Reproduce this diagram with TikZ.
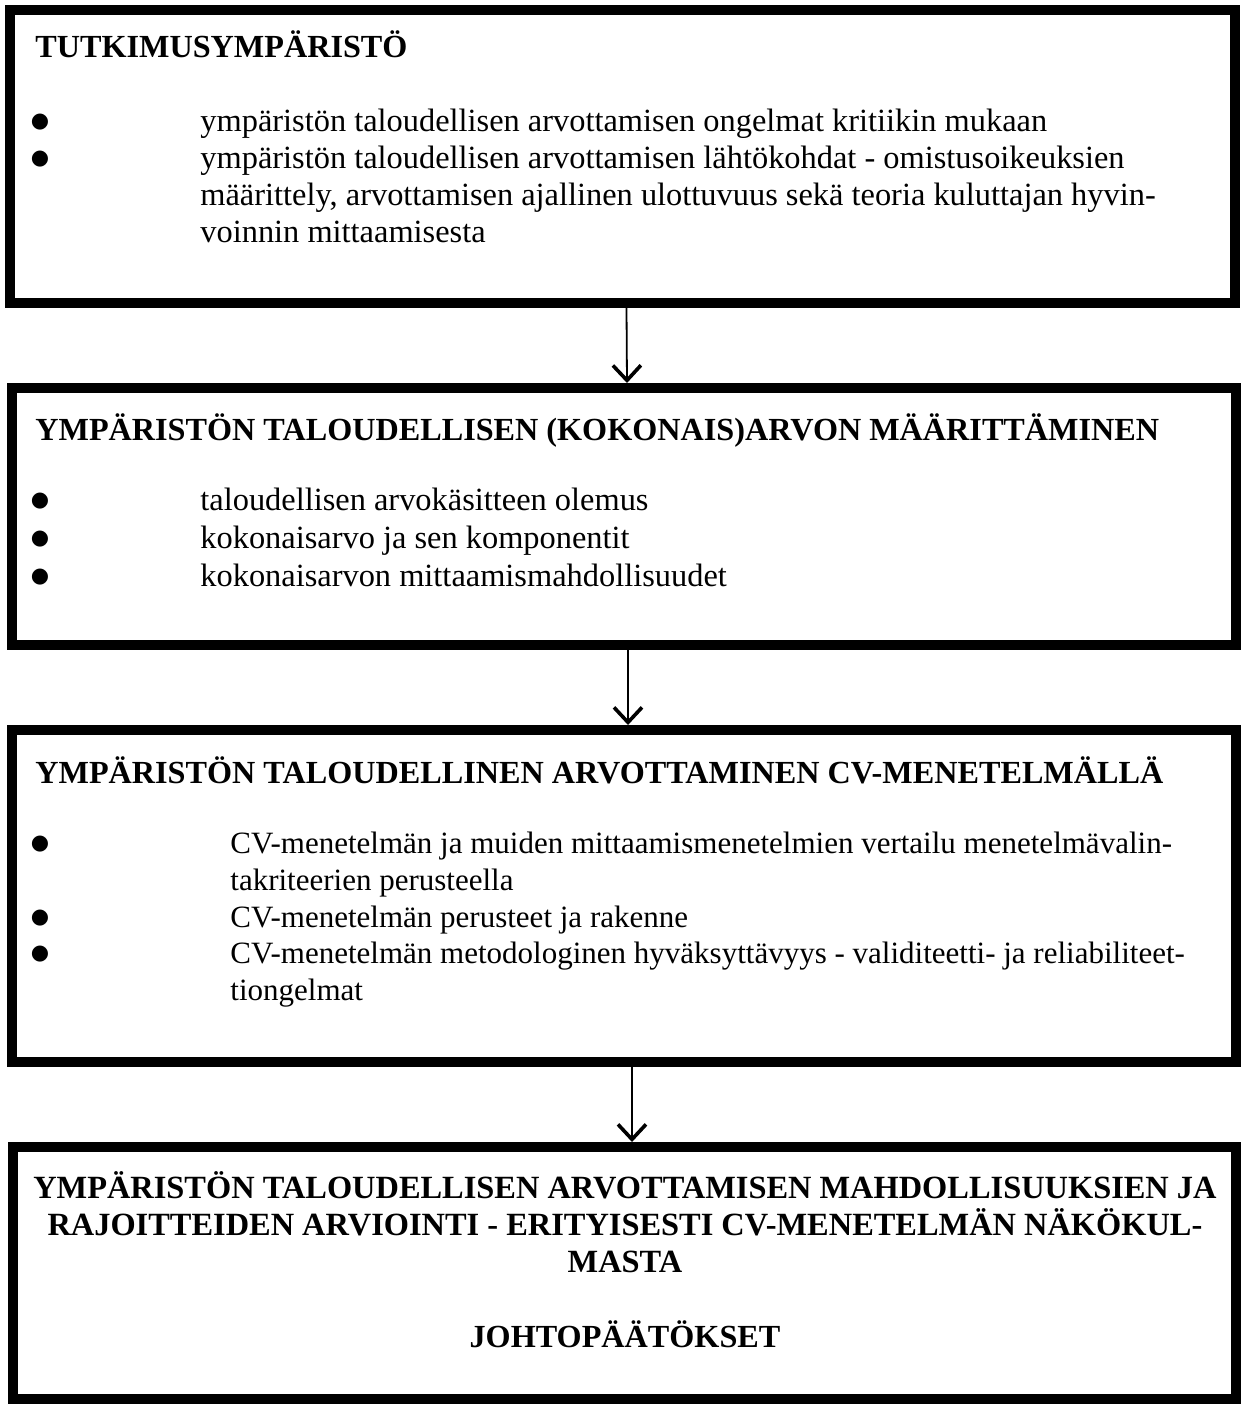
\documentclass[tikz,border=0pt]{standalone}
\usepackage{fontspec}
\setmainfont{Liberation Serif}
\newfontfamily\dotfont{DejaVu Sans}
\usetikzlibrary{arrows.meta, positioning}

\begin{document}
\begin{tikzpicture}[x=0.5pt, y=-0.5pt,
        stage/.style={rectangle, draw=black, line width=5pt, inner sep=0pt, minimum width=612pt},
        head/.style={anchor=base west, inner sep=0pt, font=\fontsize{16.1pt}{18.5pt}\selectfont\bfseries},
        item/.style={anchor=base west, inner sep=0pt, align=left, font=\fontsize{16.2pt}{18.5pt}\selectfont},
        cvitem/.style={item, font=\fontsize{15.5pt}{18.5pt}\selectfont},
        dot/.style={anchor=center, inner sep=0pt, font=\dotfont\fontsize{10.5pt}{11pt}\selectfont},
        flow/.style={-{Straight Barb[length=7.5pt, width=14pt, line width=1.8pt]}, line width=0.9pt}
    ]
        \useasboundingbox (0,0) rectangle (1241,1404);

        % boxes
        \node[stage, minimum width=612.5pt, minimum height=146.5pt] (env) at (622.5,156.5) {};
        \node[stage, minimum height=128.5pt] (value) at (624,516.5) {};
        \node[stage, minimum height=166pt] (cv) at (624,896) {};
        \node[stage, minimum width=611.5pt, minimum height=126pt] (eval) at (624.5,1273) {};

        % box 1 (multi-line items sit on their last baseline)
        \node[head] (envtitle) at (35,57) {TUTKIMUSYMPÄRISTÖ};
        \node[dot] (envdot1) at (40,122) {●};
        \node[item] (envitem1) at (200,131) {ympäristön taloudellisen arvottamisen ongelmat kritiikin mukaan};
        \node[dot] (envdot2) at (40,159) {●};
        \node[item] (envitem2) at (200,242) {ympäristön taloudellisen arvottamisen lähtökohdat - omistusoikeuksien\\
            määrittely, arvottamisen ajallinen ulottuvuus sekä teoria kuluttajan hyvin-\\
            voinnin mittaamisesta};

        % box 2
        \node[head] (valuetitle) at (35,440) {YMPÄRISTÖN TALOUDELLISEN (KOKONAIS)ARVON MÄÄRITTÄMINEN};
        \node[dot] (valuedot1) at (40,501) {●};
        \node[item] (valueitem1) at (200,510) {taloudellisen arvokäsitteen olemus};
        \node[dot] (valuedot2) at (40,539) {●};
        \node[item] (valueitem2) at (200,548) {kokonaisarvo ja sen komponentit};
        \node[dot] (valuedot3) at (40,577) {●};
        \node[item] (valueitem3) at (200,586) {kokonaisarvon mittaamismahdollisuudet};

        % box 3
        \node[head] (cvtitle) at (35,783) {YMPÄRISTÖN TALOUDELLINEN ARVOTTAMINEN CV-MENETELMÄLLÄ};
        \node[dot] (cvdot1) at (40,844) {●};
        \node[cvitem] (cvitem1) at (230,890) {CV-menetelmän ja muiden mittaamismenetelmien vertailu menetelmävalin-\\
            takriteerien perusteella};
        \node[dot] (cvdot2) at (40,918) {●};
        \node[cvitem] (cvitem2) at (230,927) {CV-menetelmän perusteet ja rakenne};
        \node[dot] (cvdot3) at (40,954) {●};
        \node[cvitem] (cvitem3) at (230,1000) {CV-menetelmän metodologinen hyväksyttävyys - validiteetti- ja reliabiliteet-\\
            tiongelmat};

        % box 4
        \node[head, anchor=base, align=center, font=\fontsize{16.2pt}{18.5pt}\selectfont\bfseries] (evaltitle) at (625,1272) {YMPÄRISTÖN TALOUDELLISEN ARVOTTAMISEN MAHDOLLISUUKSIEN JA\\
            RAJOITTEIDEN ARVIOINTI - ERITYISESTI CV-MENETELMÄN NÄKÖKUL-\\
            MASTA};
        \node[head, anchor=base] (conclusion) at (625,1347) {JOHTOPÄÄTÖKSET};

        \draw[flow] ([xshift=2pt]env.south) -- ([xshift=1.5pt]value.north);
        \draw[flow] ([xshift=2pt]value.south) -- ([xshift=2pt]cv.north);
        \draw[flow] ([xshift=4pt]cv.south) -- ([xshift=3.75pt]eval.north);
    \end{tikzpicture}
\end{document}
